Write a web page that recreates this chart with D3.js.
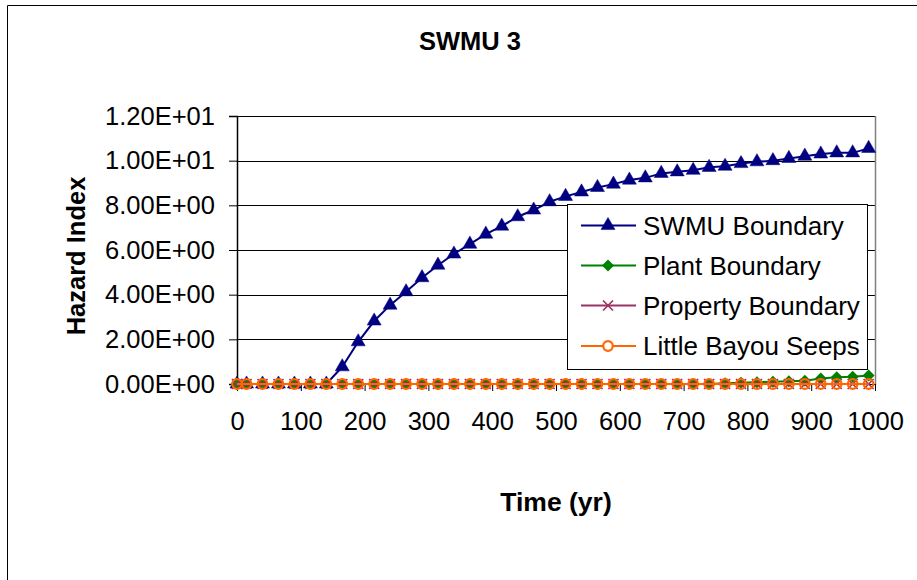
<!DOCTYPE html>
<html>
<head>
<meta charset="utf-8">
<script src="https://cdn.jsdelivr.net/npm/d3@7"></script>
<style>
  html, body { margin: 0; padding: 0; background: #fff; }
  svg { display: block; font-family: "Liberation Sans", Arial, sans-serif; }
</style>
</head>
<body>
<svg id="chart" width="917" height="580"></svg>
<script>
// ---- data ----
const title = "SWMU 3";
const xTitle = "Time (yr)";
const yTitle = "Hazard Index";
const times = [0, 15, 40, 65, 90, 115, 140, 165, 190, 215, 240, 265, 290, 315, 340, 365, 390, 415, 440, 465,
  490, 515, 540, 565, 590, 615, 640, 665, 690, 715, 740, 765, 790, 815, 840, 865, 890, 915, 940, 965, 990];
const swmuBoundary = [0, 0, 0, 0, 0, 0, 0, 0.77, 1.89, 2.82, 3.53, 4.13, 4.76, 5.32, 5.82, 6.26, 6.71, 7.07, 7.49, 7.79,
  8.16, 8.40, 8.60, 8.80, 8.95, 9.13, 9.23, 9.43, 9.50, 9.57, 9.70, 9.75, 9.87, 9.95, 10.0, 10.1, 10.2, 10.3, 10.35, 10.35, 10.55];
const plantBoundary = [0, 0, 0, 0, 0, 0, 0, 0, 0, 0, 0, 0, 0, 0, 0, 0, 0, 0, 0, 0,
  0, 0, 0, 0, 0, 0, 0, 0, 0, 0, 0, 0.03, 0.06, 0.08, 0.10, 0.12, 0.15, 0.25, 0.30, 0.32, 0.38];
const propertyBoundary = [0, 0, 0, 0, 0, 0, 0, 0, 0, 0, 0, 0, 0, 0, 0, 0, 0, 0, 0, 0,
  0, 0, 0, 0, 0, 0, 0, 0, 0, 0, 0, 0, 0, 0, 0, 0, 0, 0, 0, 0, 0];
const littleBayouSeeps = [0, 0, 0, 0, 0, 0, 0, 0, 0, 0, 0, 0, 0, 0, 0, 0, 0, 0, 0, 0,
  0, 0, 0, 0, 0, 0, 0, 0, 0, 0, 0, 0, 0, 0, 0, 0, 0, 0, 0, 0, 0];
const seriesNames = ["SWMU Boundary", "Plant Boundary", "Property Boundary", "Little Bayou Seeps"];
const xTickValues = [0, 100, 200, 300, 400, 500, 600, 700, 800, 900, 1000];
const yTickValues = [0, 2, 4, 6, 8, 10, 12];
const yTickLabels = ["0.00E+00", "2.00E+00", "4.00E+00", "6.00E+00", "8.00E+00", "1.00E+01", "1.20E+01"];

// ---- styles ----
const colors = ["#000080", "#008000", "#993366", "#FF6600"];
const markers = ["triangle", "diamond", "cross", "circle"];
const seriesValues = [swmuBoundary, plantBoundary, propertyBoundary, littleBayouSeeps];

const svg = d3.select("#chart");
const plot = { left: 237, right: 875, top: 116, bottom: 384 };

const x = d3.scaleLinear().domain([0, 1000]).range([plot.left, plot.right]);
const y = d3.scaleLinear().domain([0, 12]).range([plot.bottom, plot.top]);

// chart border (cropped on right/bottom)
svg.append("path").attr("d", "M7.5,600 L7.5,5.5 L930,5.5")
  .attr("fill", "none").attr("stroke", "#000").attr("stroke-width", 1);

// title
svg.append("text").attr("x", 470).attr("y", 50).attr("text-anchor", "middle")
  .attr("font-size", 25.5).attr("font-weight", "bold").text(title);

// gridlines
svg.append("g").selectAll("line").data(yTickValues.filter(v => v > 0)).join("line")
  .attr("x1", plot.left).attr("x2", plot.right)
  .attr("y1", d => Math.round(y(d)) + 0.5).attr("y2", d => Math.round(y(d)) + 0.5)
  .attr("stroke", "#000").attr("stroke-width", 1);

// right border of plot area
svg.append("line").attr("x1", plot.right + 0.5).attr("x2", plot.right + 0.5)
  .attr("y1", plot.top).attr("y2", plot.bottom + 1)
  .attr("stroke", "#808080").attr("stroke-width", 1.5);

// y axis
const yAxis = d3.axisLeft(y).tickValues(yTickValues).tickSize(8).tickPadding(14)
  .tickFormat((d, i) => yTickLabels[i]);
const gy = svg.append("g").attr("transform", `translate(${plot.left},0)`).call(yAxis);
gy.select(".domain").attr("stroke", "#000").attr("stroke-width", 1.5);
gy.selectAll(".tick line").attr("stroke", "#000");
gy.selectAll(".tick text").attr("font-size", 25.5).attr("fill", "#000")
  .attr("font-family", "'Liberation Sans', Arial, sans-serif");

// x axis
const xAxis = d3.axisBottom(x).tickValues(xTickValues).tickSize(7).tickSizeOuter(0).tickPadding(21)
  .tickFormat(d3.format("d"));
const gx = svg.append("g").attr("transform", `translate(0,${plot.bottom})`).call(xAxis);
gx.select(".domain").attr("stroke", "#000").attr("stroke-width", 1);
gx.selectAll(".tick line").attr("stroke", "#000");
gx.selectAll(".tick text").attr("font-size", 25.5).attr("fill", "#000")
  .attr("font-family", "'Liberation Sans', Arial, sans-serif");

// axis titles
svg.append("text").attr("transform", "translate(85,256) rotate(-90)").attr("text-anchor", "middle")
  .attr("font-size", 25.5).attr("font-weight", "bold").text(yTitle);
svg.append("text").attr("x", 556).attr("y", 511).attr("text-anchor", "middle")
  .attr("font-size", 26.5).attr("font-weight", "bold").text(xTitle);

// marker drawing
function drawMarker(g, type, color, cx, cy, legend) {
  if (type === "triangle") {
    g.append("path").attr("d", d3.symbol().type(d3.symbolTriangle).size(85)())
      .attr("transform", `translate(${cx},${cy})`).attr("fill", color).attr("stroke", color).attr("stroke-width", 0.5);
  } else if (type === "diamond") {
    const r = 6;
    g.append("path").attr("d", `M0,${-r}L${r},0L0,${r}L${-r},0Z`)
      .attr("transform", `translate(${cx},${cy})`).attr("fill", color);
  } else if (type === "cross") {
    const r = 5;
    g.append("path").attr("d", `M${-r},${-r}L${r},${r}M${-r},${r}L${r},${-r}`)
      .attr("transform", `translate(${cx},${cy})`).attr("stroke", color).attr("stroke-width", 1.7).attr("fill", "none");
  } else if (type === "circle") {
    g.append("circle").attr("cx", cx).attr("cy", cy).attr("r", 4.8)
      .attr("fill", legend ? "#fff" : "none").attr("stroke", color).attr("stroke-width", 2.2);
  }
}

const line = d3.line().x(d => x(d[0])).y(d => y(d[1]));
seriesValues.forEach((vals, si) => {
  const pts = times.map((t, i) => [t, vals[i]]);
  const g = svg.append("g");
  g.append("path").attr("d", line(pts)).attr("fill", "none")
    .attr("stroke", colors[si]).attr("stroke-width", 2);
  pts.forEach(p => drawMarker(g, markers[si], colors[si], x(p[0]), y(p[1]), false));
});

// legend
const lg = svg.append("g");
lg.append("rect").attr("x", 567.5).attr("y", 204.5).attr("width", 300).attr("height", 165)
  .attr("fill", "#fff").attr("stroke", "#000").attr("stroke-width", 1);
const rowY = [225.5, 265.5, 305.5, 346];
seriesNames.forEach((name, i) => {
  lg.append("line").attr("x1", 581).attr("x2", 636).attr("y1", rowY[i]).attr("y2", rowY[i])
    .attr("stroke", colors[i]).attr("stroke-width", 2);
  drawMarker(lg, markers[i], colors[i], 608, rowY[i], true);
  lg.append("text").attr("x", 643).attr("y", rowY[i]).attr("dy", "0.36em")
    .attr("font-size", 26).attr("fill", "#000").text(name);
});
</script>
</body>
</html>
